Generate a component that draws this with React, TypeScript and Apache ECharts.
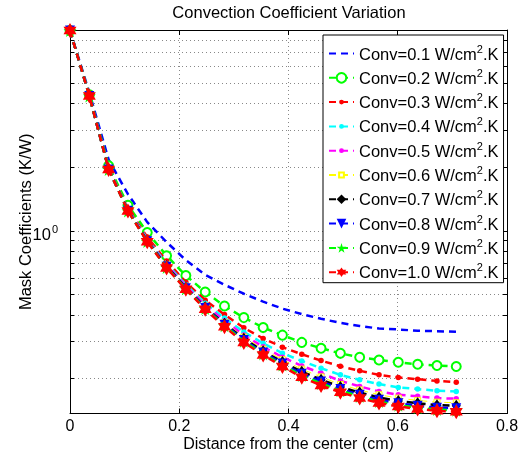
import React, { useEffect, useRef } from 'react';
import * as echarts from 'echarts';

const xValues = [0, 0.0354, 0.0707, 0.1061, 0.1414, 0.1768, 0.2121, 0.2475, 0.2828, 0.3182, 0.3536, 0.3889, 0.4243, 0.4596, 0.495, 0.5303, 0.5657, 0.601, 0.6364, 0.6718, 0.7071];

const conv01 = [8.85, 4.5, 2.17, 1.49, 1.1, 0.885, 0.727, 0.6195, 0.556, 0.5045, 0.4628, 0.429, 0.4043, 0.384, 0.3675, 0.355, 0.3455, 0.342, 0.337, 0.3356, 0.3334];
const conv02 = [8.85, 4.4, 2.03, 1.32, 0.983, 0.763, 0.615, 0.514, 0.4416, 0.389, 0.349, 0.3214, 0.297, 0.2785, 0.2637, 0.2525, 0.2453, 0.2393, 0.234, 0.2309, 0.2284];
const conv03 = [8.85, 4.36, 1.98, 1.27, 0.935, 0.72, 0.572, 0.47, 0.402, 0.348, 0.31, 0.282, 0.2609, 0.2436, 0.229, 0.218, 0.2086, 0.2028, 0.199, 0.1954, 0.1927];
const conv04 = [8.85, 4.35, 1.97, 1.26, 0.915, 0.7, 0.556, 0.455, 0.387, 0.333, 0.294, 0.264, 0.2427, 0.2243, 0.2086, 0.1977, 0.1887, 0.182, 0.1787, 0.1754, 0.1743];
const conv05 = [8.85, 4.35, 1.96, 1.255, 0.905, 0.69, 0.548, 0.446, 0.376, 0.322, 0.283, 0.253, 0.23, 0.2124, 0.1954, 0.184, 0.1743, 0.168, 0.1651, 0.162, 0.161];
const conv06 = [8.85, 4.34, 1.955, 1.25, 0.9, 0.685, 0.543, 0.44, 0.369, 0.315, 0.276, 0.246, 0.222, 0.204, 0.188, 0.177, 0.168, 0.162, 0.158, 0.155, 0.154];
const conv07 = [8.85, 4.34, 1.953, 1.247, 0.897, 0.68, 0.539, 0.436, 0.364, 0.309, 0.27, 0.24, 0.216, 0.198, 0.183, 0.172, 0.163, 0.157, 0.153, 0.15, 0.149];
const conv08 = [8.85, 4.34, 1.952, 1.245, 0.894, 0.676, 0.535, 0.432, 0.36, 0.305, 0.266, 0.236, 0.211, 0.194, 0.179, 0.168, 0.159, 0.153, 0.149, 0.146, 0.145];
const conv09 = [8.85, 4.34, 1.951, 1.242, 0.891, 0.672, 0.532, 0.429, 0.356, 0.301, 0.262, 0.232, 0.207, 0.19, 0.1755, 0.165, 0.156, 0.15, 0.146, 0.143, 0.142];
const conv10 = [8.85, 4.34, 1.95, 1.24, 0.888, 0.668, 0.529, 0.426, 0.352, 0.297, 0.259, 0.2285, 0.203, 0.186, 0.1725, 0.162, 0.1536, 0.148, 0.144, 0.141, 0.1395];

const seriesNames = [
  'Conv=0.1 W/cm2.K', 'Conv=0.2 W/cm2.K', 'Conv=0.3 W/cm2.K', 'Conv=0.4 W/cm2.K', 'Conv=0.5 W/cm2.K',
  'Conv=0.6 W/cm2.K', 'Conv=0.7 W/cm2.K', 'Conv=0.8 W/cm2.K', 'Conv=0.9 W/cm2.K', 'Conv=1.0 W/cm2.K',
];
const seriesValues = [conv01, conv02, conv03, conv04, conv05, conv06, conv07, conv08, conv09, conv10];

const xTicks = [0, 0.2, 0.4, 0.6, 0.8];
const yTickValues = [0.2, 0.3, 0.4, 0.5, 0.6, 0.7, 0.8, 0.9, 1, 2, 3, 4, 5, 6, 7, 8];
const yLabelValues = [1];

const PENTAGRAM = 'path://M0 -100 L22.45 -30.9 L95.1 -30.9 L36.3 11.8 L58.8 80.9 L0 38.2 L-58.8 80.9 L-36.3 11.8 L-95.1 -30.9 L-22.45 -30.9 Z';
const HEXAGRAM = 'path://M0 -100 L28.87 -50 L86.6 -50 L57.7 0 L86.6 50 L28.87 50 L0 100 L-28.87 50 L-86.6 50 L-57.7 0 L-86.6 -50 L-28.87 -50 Z';
// small dot / square padded inside a larger invisible box so the legend draws them small
const DOT = 'path://M-10 -10 L-10 -10 M10 10 L10 10 M-5 0 A5 5 0 1 0 5 0 A5 5 0 1 0 -5 0 Z';
const SQUARE = 'path://M-10 -10 L-10 -10 M10 10 L10 10 M-5 -5 L5 -5 L5 5 L-5 5 Z';

const styles = [
  { color: '#0000ff', symbol: 'circle', size: 0, width: 2.5 },
  { color: '#00ff00', symbol: 'emptyCircle', size: 9, width: 2.5 },
  { color: '#ff0000', symbol: DOT, size: 11, width: 2.5 },
  { color: '#00ffff', symbol: DOT, size: 11, width: 2.5 },
  { color: '#ff00ff', symbol: DOT, size: 11, width: 2.5 },
  { color: '#ffff00', symbol: SQUARE, size: 12, width: 1, fill: '#ffffff', border: 1 },
  { color: '#000000', symbol: 'diamond', size: [9, 12], width: 2.5 },
  { color: '#0000ff', symbol: 'triangle', size: 10, rotate: 180, width: 2.5 },
  { color: '#00ff00', symbol: PENTAGRAM, size: 13, width: 2.5 },
  { color: '#ff0000', symbol: HEXAGRAM, size: [13, 15], width: 2.5 },
];

const FONT = '"Liberation Sans", Arial, Helvetica, sans-serif';

export default function App() {
  const ref = useRef<HTMLDivElement>(null);
  useEffect(() => {
    if (!ref.current) return;
    const chart = echarts.init(ref.current, undefined, { renderer: 'svg' });
    const gridColor = '#888';
    const series: any[] = seriesNames.map((name, k) => {
      const st: any = styles[k];
      return {
        name,
        type: 'line',
        xAxisIndex: 0,
        yAxisIndex: 0,
        data: xValues.map((x, i) => [x, seriesValues[k][i]]),
        symbol: st.symbol,
        symbolSize: st.size,
        symbolRotate: st.rotate || 0,
        showSymbol: k !== 0,
        lineStyle: { color: st.color, width: st.width, type: [7, 5] },
        itemStyle: {
          color: st.fill || st.color,
          borderColor: st.color,
          borderWidth: st.symbol === 'emptyCircle' ? 2 : (st.border || 0),
        },
        emphasis: { disabled: true },
        z: 2 + k,
      };
    });
    chart.setOption({
      animation: false,
      textStyle: { fontFamily: FONT },
      title: {
        text: 'Convection Coefficient Variation',
        left: 289,
        top: 3,
        padding: 0,
        textAlign: 'center',
        textStyle: { fontSize: 16.5, fontWeight: 'normal', color: '#000', fontFamily: FONT },
      },
      grid: { left: 70, right: 16, top: 30, bottom: 41, containLabel: false },
      xAxis: [
        {
          type: 'value',
          position: 'bottom',
          min: 0,
          max: 0.8,
          interval: 0.2,
          name: 'Distance from the center (cm)',
          nameLocation: 'middle',
          nameGap: 23,
          nameMoveOverlap: false,
          nameTextStyle: { fontSize: 16, lineHeight: 13, color: '#000', fontFamily: FONT },
          axisLine: { show: true, onZero: false, lineStyle: { color: '#000', width: 1 } },
          axisTick: { show: true, inside: true, length: 5, lineStyle: { color: '#000' } },
          axisLabel: { fontSize: 16, lineHeight: 12, color: '#000', margin: 6, fontFamily: FONT, formatter: (v: number) => (xTicks.includes(Number(v.toFixed(2))) ? String(Number(v.toFixed(2))) : '') },
          splitLine: { show: true, lineStyle: { color: gridColor, type: [1, 3], width: 1 } },
        },
        {
          type: 'value',
          position: 'top',
          min: 0,
          max: 0.8,
          interval: 0.2,
          axisLine: { show: true, onZero: false, lineStyle: { color: '#000', width: 1 } },
          axisTick: { show: true, inside: true, length: 5, lineStyle: { color: '#000' } },
          axisLabel: { show: false },
          splitLine: { show: false },
        },
      ],
      yAxis: [
        {
          type: 'log',
          logBase: 10,
          position: 'left',
          min: 0.137,
          max: 8.9,
          name: 'Mask Coefficients (K/W)',
          nameLocation: 'middle',
          nameGap: 37,
          nameMoveOverlap: false,
          nameTextStyle: { fontSize: 16.5, color: '#000', fontFamily: FONT },
          axisLine: { show: true, onZero: false, lineStyle: { color: '#000', width: 1 } },
          axisTick: { show: true, inside: true, length: 4, customValues: yTickValues, lineStyle: { color: '#000' } },
          axisLabel: {
            customValues: yLabelValues,
            margin: 12,
            color: '#000',
            padding: [6, 0, 0, 0],
            formatter: (v: number) => (Math.abs(v - 1) < 1e-6 ? '{b|10}{s|0}' : ''),
            rich: {
              b: { fontSize: 16.5, color: '#000', fontFamily: FONT, lineHeight: 18 },
              s: { fontSize: 11, color: '#000', fontFamily: FONT, lineHeight: 18, padding: [0, 0, 10, 1] },
            },
          },
          splitLine: { show: true, lineStyle: { color: gridColor, type: [1, 3], width: 1 } },
        },
        {
          type: 'log',
          logBase: 10,
          position: 'right',
          min: 0.137,
          max: 8.9,
          axisLine: { show: true, onZero: false, lineStyle: { color: '#000', width: 1 } },
          axisTick: { show: true, inside: true, length: 4, customValues: yTickValues, lineStyle: { color: '#000' } },
          axisLabel: { show: false },
          splitLine: { show: false },
        },
      ],
      legend: {
        orient: 'vertical',
        left: 323,
        top: 35,
        padding: [8, 5, 0, 5],
        itemWidth: 25,
        itemHeight: 12,
        itemGap: 3.3,
        backgroundColor: '#fff',
        borderColor: '#000',
        borderWidth: 1,
        selectedMode: false,
        data: seriesNames.map((n, k) => (k === 0 ? { name: n, itemStyle: { opacity: 0 } } : n)),
        formatter: (name: string) => {
          const parts = name.split('cm2');
          return `{t|${parts[0]}cm}{s|2}{t|${parts[1]}}`;
        },
        textStyle: {
          color: '#000',
          fontFamily: FONT,
          fontSize: 16.5,
          rich: {
            t: { fontSize: 16.5, color: '#000', fontFamily: FONT, lineHeight: 18 },
            s: { fontSize: 11, color: '#000', fontFamily: FONT, lineHeight: 18, padding: [0, 0, 10, 0] },
          },
        },
      },
      series,
    });
    return () => chart.dispose();
  }, []);
  return <div ref={ref} style={{ position: 'fixed', left: 0, top: 0, width: 523, height: 456 }} />;
}
